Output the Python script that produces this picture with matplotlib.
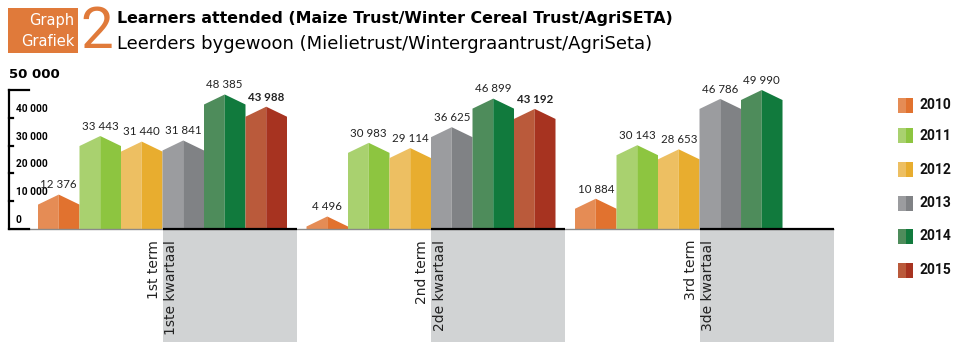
import matplotlib
matplotlib.use("Agg")
import matplotlib.pyplot as plt
from matplotlib.patches import Polygon, Rectangle

# ---------------- data ----------------
years = ["2010", "2011", "2012", "2013", "2014", "2015"]
terms = ["1st term\n1ste kwartaal", "2nd term\n2de kwartaal", "3rd term\n3de kwartaal"]
v2010 = [12376, 4496, 10884]
v2011 = [33443, 30983, 30143]
v2012 = [31440, 29114, 28653]
v2013 = [31841, 36625, 46786]
v2014 = [48385, 46899, 49990]
v2015 = [43988, 43192, None]
series = [v2010, v2011, v2012, v2013, v2014, v2015]
yticks = [0, 10000, 20000, 30000, 40000]
ymax_tick = 50000

title1 = "Learners attended (Maize Trust/Winter Cereal Trust/AgriSETA)"
title2 = "Leerders bygewoon (Mielietrust/Wintergraantrust/AgriSeta)"

# ---------------- style ----------------
light = ["#E58C55", "#A9D16F", "#EDBF62", "#9B9C9F", "#4E8C5B", "#BA5A3B"]
dark = ["#E1722F", "#8DC540", "#E8AD2F", "#808285", "#117A3D", "#A73320"]
orange = "#E07A3A"
grey_box = "#D1D3D4"
narrow = ["Roboto", "DejaVu Sans"]

W, H = 960, 354
fig = plt.figure(figsize=(W / 100, H / 100), dpi=100)
ax = fig.add_axes([0, 0, 1, 1])
ax.set_axis_off()

# pixel layout -> data scale
bar_px = 41.5
x0_px = 38.0
base_px = 229.0           # baseline, from top
px_per_val = 139.0 / 50000
ax.set_xlim(-x0_px / bar_px, (W - x0_px) / bar_px)
ax.set_ylim(-(H - base_px) / px_per_val, base_px / px_per_val)

group_step = 6.47
roof = 3600
box_w = 3.23
box_depth = 113 / px_per_val
axis_x = (9 - x0_px) / bar_px
long_tick = (29 - x0_px) / bar_px
short_tick = (13 - x0_px) / bar_px
label_x = (16 - x0_px) / bar_px

# grey boxes under the baseline (behind everything)
for g in range(len(terms)):
    gx = g * group_step
    ax.add_patch(Rectangle((gx + 3, -box_depth), box_w, box_depth,
                           facecolor=grey_box, edgecolor="none", zorder=1))

# bars (two-tone with pointed roof)
for s, vals in enumerate(series):
    for g, v in enumerate(vals):
        if v is None:
            continue
        xl = g * group_step + s
        xc = xl + 0.5
        xr = xl + 1.0
        sh = max(v - roof, 0)
        ax.add_patch(Polygon([(xl, 0), (xl, sh), (xc, v), (xc, 0)], closed=True,
                             facecolor=light[s], edgecolor="none", zorder=3))
        ax.add_patch(Polygon([(xc, 0), (xc, v), (xr, sh), (xr, 0)], closed=True,
                             facecolor=dark[s], edgecolor="none", zorder=3))
        txt = f"{v:,}".replace(",", " ")
        ax.annotate(txt, (xc, v), xytext=(0, 3), textcoords="offset points",
                    ha="center", va="bottom", fontsize=8.3,
                    fontweight="bold" if s == 5 else "normal",
                    family=["Lato", "DejaVu Sans"], color="#222222", zorder=5)

# baseline
end_x = (len(terms) - 1) * group_step + 3 + box_w
ax.plot([axis_x, end_x], [0, 0], color="#8a8a8a", lw=1.0, zorder=4,
        solid_capstyle="butt")
for g in range(len(terms)):
    gx = g * group_step
    ax.plot([gx + 3, gx + 3 + box_w], [0, 0], color="black", lw=1.6, zorder=4,
            solid_capstyle="butt")

# y axis
ax.plot([axis_x, axis_x], [0, ymax_tick], color="black", lw=1.6, zorder=4)
ax.plot([axis_x, long_tick], [ymax_tick, ymax_tick], color="black", lw=1.6, zorder=4)
ax.plot([axis_x, long_tick], [0, 0], color="black", lw=1.6, zorder=4)
for t in yticks[1:]:
    ax.plot([axis_x, short_tick], [t, t], color="black", lw=1.6, zorder=4)
for t in yticks:
    lab = f"{t:,}".replace(",", " ")
    ax.text(label_x, t + 9 / px_per_val, lab, ha="left", va="center",
            fontsize=7.3, fontweight="bold", family=narrow, color="black")
ax.text(axis_x, ymax_tick + 15 / px_per_val, f"{ymax_tick:,}".replace(",", " "),
        ha="left", va="center", fontsize=9.5, fontweight="bold",
        family="DejaVu Sans", color="black")

# category labels
for g, t in enumerate(terms):
    gx = g * group_step
    ax.text(gx + 3, -11 / px_per_val, t, rotation=90, ha="center", va="top",
            multialignment="right", fontsize=10, linespacing=1.3,
            family="DejaVu Sans", color="#222222", zorder=5)

# legend
leg_y = [105, 136, 170, 203, 236, 270]
for i, y in enumerate(years):
    yc = leg_y[i]
    fig.patches.append(Rectangle((898 / W, 1 - (yc + 7.5) / H), 7.5 / W, 15 / H,
                                 transform=fig.transFigure, facecolor=light[i],
                                 edgecolor="none"))
    fig.patches.append(Rectangle((905.5 / W, 1 - (yc + 7.5) / H), 7.5 / W, 15 / H,
                                 transform=fig.transFigure, facecolor=dark[i],
                                 edgecolor="none"))
    fig.text(919 / W, 1 - yc / H, y, ha="left", va="center", fontsize=10,
             fontweight="bold", family=narrow, color="#111111")

# title block
fig.patches.append(Rectangle((8 / W, 1 - 53 / H), 70 / W, 45 / H,
                             transform=fig.transFigure, facecolor=orange,
                             edgecolor="none"))
fig.text(74 / W, 1 - 21 / H, "Graph", ha="right", va="center", fontsize=10.5,
         color="white", family="DejaVu Sans")
fig.text(74 / W, 1 - 42 / H, "Grafiek", ha="right", va="center", fontsize=10.5,
         color="white", family="DejaVu Sans")
fig.text(97 / W, 1 - 32 / H, "2", ha="center", va="center", fontsize=42,
         color=orange, family=narrow, fontweight="normal")
fig.text(117 / W, 1 - 19 / H, title1, ha="left", va="center", fontsize=11.4,
         fontweight="bold", family="DejaVu Sans", color="black")
fig.text(117 / W, 1 - 44 / H, title2, ha="left", va="center", fontsize=13,
         family="DejaVu Sans", color="black")

fig.savefig("out.png", dpi=100)
